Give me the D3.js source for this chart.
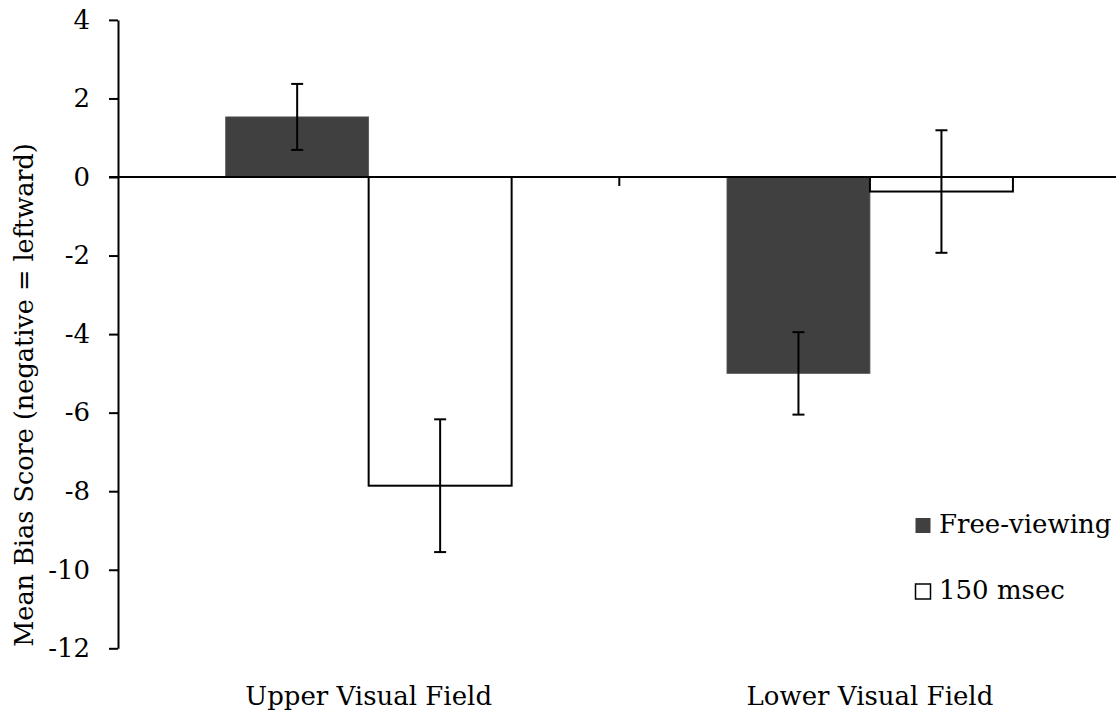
<!DOCTYPE html>
<html>
<head>
<meta charset="utf-8">
<script src="https://cdn.jsdelivr.net/npm/d3@7"></script>
<style>
  html, body { margin: 0; padding: 0; background: #fff; }
  svg { display: block; }
  text { font-family: "DejaVu Serif", serif; font-size: 26px; fill: #000; }
</style>
</head>
<body>
<svg id="chart" width="1116" height="712"></svg>
<script>
// Mean bias scores by visual field and viewing condition
const categories = ["Upper Visual Field", "Lower Visual Field"];
const seriesNames = ["Free-viewing", "150 msec"];
const freeViewing = [1.53, -5.0];
const freeViewingErr = [0.84, 1.05];
const msec150 = [-7.86, -0.37];
const msec150Err = [1.69, 1.56];
const yTicks = [4, 2, 0, -2, -4, -6, -8, -10, -12];
const yTitle = "Mean Bias Score (negative = leftward)";

const seriesValues = [freeViewing, msec150];
const seriesErrors = [freeViewingErr, msec150Err];
const seriesFill = ["#404040", "#ffffff"];
const seriesStroke = ["#555555", "#000000"];

const svg = d3.select("#chart");

const y = d3.scaleLinear().domain([-12, 4]).range([648.3, 19.9]);
const x0 = d3.scaleBand().domain(categories).range([118, 1120.6]).padding(0);
const x1 = d3.scaleBand().domain(seriesNames).range([0, x0.bandwidth()])
  .paddingInner(0).paddingOuter(0.753);

// Bars
const rows = [];
categories.forEach((c, i) => {
  seriesNames.forEach((s, j) => {
    rows.push({ cat: c, series: s, j, value: seriesValues[j][i], err: seriesErrors[j][i] });
  });
});

const gBars = svg.append("g");
gBars.selectAll("rect").data(rows).enter().append("rect")
  .attr("x", d => x0(d.cat) + x1(d.series))
  .attr("width", x1.bandwidth())
  .attr("y", d => y(Math.max(0, d.value)))
  .attr("height", d => Math.abs(y(d.value) - y(0)))
  .attr("fill", d => seriesFill[d.j])
  .attr("stroke", d => seriesStroke[d.j])
  .attr("stroke-width", d => d.j === 0 ? 0.8 : 2);

// Y axis
const yAxis = d3.axisLeft(y).tickValues(yTicks).tickFormat(d => String(d))
  .tickSize(9).tickSizeOuter(0).tickPadding(19);
const gy = svg.append("g").attr("transform", "translate(118,0)").call(yAxis);
gy.select(".domain").attr("stroke", "#000").attr("stroke-width", 2);
gy.selectAll(".tick line").attr("stroke", "#000").attr("stroke-width", 2);

// Category axis along zero
const catBounds = [x0.range()[0] + x0.step(), x0.range()[1]];
const gx = svg.append("g");
gx.append("line")
  .attr("x1", 109).attr("x2", 1116)
  .attr("y1", y(0)).attr("y2", y(0))
  .attr("stroke", "#000").attr("stroke-width", 2);
gx.selectAll("line.ct").data(catBounds).enter().append("line")
  .attr("class", "ct")
  .attr("x1", d => d).attr("x2", d => d)
  .attr("y1", y(0)).attr("y2", y(0) + 9)
  .attr("stroke", "#000").attr("stroke-width", 2);

// Category labels
svg.append("g").selectAll("text").data(categories).enter().append("text")
  .attr("x", d => x0(d) + x0.bandwidth() / 2)
  .attr("y", 705)
  .attr("text-anchor", "middle")
  .text(d => d);

// Error bars
const gErr = svg.append("g").attr("stroke", "#000").attr("stroke-width", 2);
rows.forEach(d => {
  const cx = x0(d.cat) + x1(d.series) + x1.bandwidth() / 2;
  const top = y(d.value + d.err), bot = y(d.value - d.err);
  gErr.append("line").attr("x1", cx).attr("x2", cx).attr("y1", top).attr("y2", bot);
  gErr.append("line").attr("x1", cx - 6).attr("x2", cx + 6).attr("y1", top).attr("y2", top);
  gErr.append("line").attr("x1", cx - 6).attr("x2", cx + 6).attr("y1", bot).attr("y2", bot);
});

// Y axis title
svg.append("text")
  .attr("transform", "translate(33," + 395 + ") rotate(-90)")
  .attr("text-anchor", "middle")
  .style("font-size", "25.5px")
  .text(yTitle);

// Legend
const legend = svg.append("g");
seriesNames.forEach((s, j) => {
  const yy = 518 + j * 66;
  legend.append("rect")
    .attr("x", 915.5).attr("y", yy).attr("width", 15).attr("height", 15)
    .attr("fill", seriesFill[j])
    .attr("stroke", j === 0 ? "none" : "#000")
    .attr("stroke-width", 1.5);
  legend.append("text")
    .attr("x", 939).attr("y", yy + 15)
    .text(s);
});
</script>
</body>
</html>
